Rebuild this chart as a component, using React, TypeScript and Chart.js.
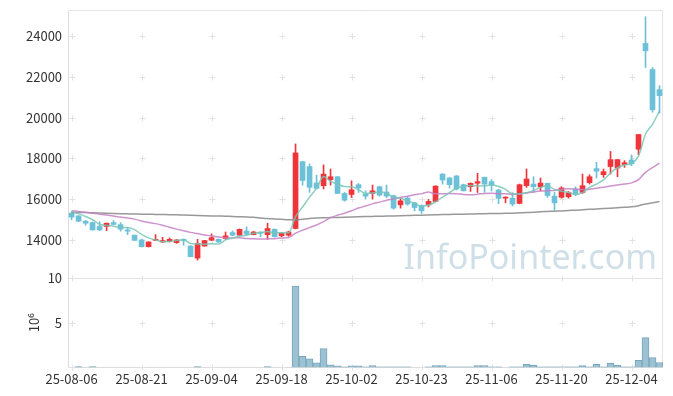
import React, { useEffect, useRef } from 'react';
import { Chart, registerables } from 'chart.js';

Chart.register(...registerables);

const dates = [
  '25-08-06','25-08-07','25-08-08','25-08-11','25-08-12','25-08-13','25-08-14','25-08-18','25-08-19','25-08-20',
  '25-08-21','25-08-22','25-08-25','25-08-26','25-08-27','25-08-28','25-08-29','25-09-01','25-09-02','25-09-03',
  '25-09-04','25-09-05','25-09-08','25-09-09','25-09-10','25-09-11','25-09-12','25-09-15','25-09-16','25-09-17',
  '25-09-18','25-09-19','25-09-22','25-09-23','25-09-24','25-09-25','25-09-26','25-09-29','25-09-30','25-10-01',
  '25-10-02','25-10-10','25-10-13','25-10-14','25-10-15','25-10-16','25-10-17','25-10-20','25-10-21','25-10-22',
  '25-10-23','25-10-24','25-10-27','25-10-28','25-10-29','25-10-30','25-10-31','25-11-03','25-11-04','25-11-05',
  '25-11-06','25-11-07','25-11-10','25-11-11','25-11-12','25-11-13','25-11-14','25-11-17','25-11-18','25-11-19',
  '25-11-20','25-11-21','25-11-24','25-11-25','25-11-26','25-11-27','25-11-28','25-12-01','25-12-02','25-12-03',
  '25-12-04','25-12-05','25-12-08','25-12-09','25-12-10',
];

const opens = [
  15310,15180,14920,14850,14660,14660,14850,14750,14490,14230,
  14000,13670,13980,13900,13930,13870,14030,13700,13110,13700,
  13990,14030,14070,14360,14230,14440,14260,14390,14260,14525,
  14200,14230,14560,17840,17600,16790,16660,16960,17100,16280,
  16230,16710,16250,16280,16610,16350,16170,15720,16050,15820,
  15690,15720,15890,17230,17040,17140,16710,16610,16780,17070,
  16860,16450,16050,16050,15790,16660,16740,16610,16780,16150,
  16090,16120,16500,16330,16810,17500,17200,17600,17530,17700,
  17920,18450,23640,22360,21370,
];

const highs = [
  15380,15200,14950,14880,14890,14830,14950,14850,14590,14250,
  14020,13910,14260,14130,14100,14030,14060,13720,14030,13980,
  14300,14050,14390,14440,14540,14640,14420,14400,14820,14540,
  14360,14430,18710,17860,17730,17180,17680,17480,17110,16330,
  16900,16770,16410,16690,16640,16690,16200,16080,16120,15840,
  15720,15990,16660,17250,17060,17160,16740,16800,17270,17090,
  16960,16480,16120,16320,16740,17480,17100,17040,16790,16330,
  16610,16380,16610,17235,17200,17810,17480,18340,17960,17890,
  18170,19180,24950,22460,21570,
];

const lows = [
  14990,14900,14720,14480,14460,14460,14740,14430,14260,13960,
  13650,13650,13970,13870,13900,13830,13740,13170,13010,13690,
  13960,13880,14030,14200,14200,14230,14250,14160,14030,14140,
  14160,14180,14540,16690,16330,16500,16500,16690,16270,15900,
  16080,16330,16000,16000,16150,16080,15510,15560,15700,15430,
  15300,15620,15870,16740,16545,16450,16400,16380,16330,16330,
  16400,15780,15820,15670,15770,16580,16330,16410,16085,15460,
  16050,16050,16170,16280,16740,17040,17070,17230,17100,17560,
  17640,18180,22460,20270,20220,
];

const closes = [
  15120,14920,14820,14490,14490,14820,14760,14530,14430,13980,
  13670,13900,14030,13970,14030,14000,13970,13180,13830,13970,
  14110,13900,14200,14230,14520,14280,14390,14330,14560,14160,
  14330,14390,18270,16920,16580,16530,17230,17100,16280,15950,
  16460,16550,16150,16410,16200,16150,15560,15920,15760,15590,
  15430,15890,16640,16940,16710,16500,16410,16775,16860,16740,
  16690,16040,16090,15760,16710,16990,16610,16790,16180,15820,
  16550,16320,16250,16660,17100,17370,17350,17940,17940,17790,
  17730,19170,23280,20390,21080,
];

const ma5 = [
  15390,15290,15150,14990,14768,14708,14676,14618,14606,14504,
  14274,14102,14002,13910,13920,13986,14000,13830,13802,13790,
  13812,13798,14002,14082,14192,14226,14324,14350,14416,14344,
  14354,14354,15142,15614,16098,16538,17106,16872,16744,16618,
  16604,16468,16278,16304,16354,16292,16094,16048,15918,15796,
  15652,15718,15862,16098,16322,16536,16640,16667,16651,16657,
  16695,16621,16484,16264,16258,16318,16432,16572,16656,16478,
  16390,16332,16224,16320,16576,16740,16946,17284,17540,17678,
  17750,18114,19182,19672,20330,
];

const ma20 = [
  15430,15400,15360,15310,15265,15220,15170,15120,15080,15020,
  14930,14860,14800,14720,14620,14530,14450,14370,14310,14246,
  14195,14144,14113,14100,14102,14075,14056,14046,14053,14062,
  14095,14119,14331,14479,14606,14733,14896,15092,15214,15313,
  15431,15563,15661,15770,15854,15947,16006,16085,16145,16217,
  16272,16347,16265,16266,16273,16271,16230,16214,16243,16282,
  16294,16268,16265,16233,16258,16300,16353,16396,16417,16429,
  16485,16506,16487,16473,16492,16536,16583,16641,16695,16748,
  16800,16956,17316,17547,17766,
];

const ma60 = [
  15350,15345,15340,15330,15320,15310,15300,15290,15280,15270,
  15265,15260,15250,15245,15240,15230,15220,15210,15200,15190,
  15180,15170,15165,15150,15140,15130,15110,15080,15050,15030,
  15010,14990,14990,15020,15050,15070,15085,15095,15105,15115,
  15125,15135,15145,15155,15165,15170,15180,15190,15200,15210,
  15215,15225,15235,15245,15250,15260,15265,15275,15280,15290,
  15295,15300,15305,15315,15330,15345,15360,15380,15395,15410,
  15425,15445,15460,15480,15500,15520,15540,15560,15580,15600,
  15625,15680,15760,15820,15880,
];

// volume in millions of shares
const volumes = [
  0,0.08,0,0.08,0,0,0,0,0,0,
  0,0,0,0,0,0,0,0,0.08,0,
  0,0,0,0,0,0,0,0,0.08,0,
  0,0,9.1,1.24,0.97,0.52,2.1,0.3,0.17,0.06,
  0.17,0.17,0.06,0.2,0.06,0.06,0.06,0.06,0.06,0,
  0,0.06,0.2,0.2,0.06,0.06,0.06,0.06,0.2,0.2,
  0.06,0.06,0,0.06,0.06,0.34,0.22,0.06,0.06,0.06,
  0.06,0.06,0.06,0.19,0.06,0.34,0.06,0.45,0.22,0.06,
  0.06,0.79,3.33,1.1,0.55,
];

const priceTicks = [14000, 16000, 18000, 20000, 22000, 24000];
const volumeTicks = [5, 10];
const labelEvery = 10;

const FONT = '"Noto Sans CJK KR", "Noto Sans", sans-serif';
const UP = '#ef3539';
const DOWN = '#6cc0d8';

const decor = {
  id: 'decor',
  beforeDatasetsDraw(chart: any) {
    const { ctx, chartArea, scales } = chart;
    const x = scales.x;
    const y = scales.y;
    const yv = scales.yv;
    const L = Math.round(chartArea.left) + 0.5;
    const R = Math.round(chartArea.right) - 0.5;
    ctx.save();
    // watermark
    ctx.font = '34px "Noto Sans", sans-serif';
    ctx.fillStyle = 'rgba(168,196,212,0.55)';
    ctx.textAlign = 'right';
    ctx.textBaseline = 'alphabetic';
    ctx.fillText('InfoPointer.com', chartArea.right - 6, y.bottom - 9);
    // frames
    ctx.lineWidth = 1;
    ctx.strokeStyle = '#e4e4e4';
    const T = Math.round(y.top) + 0.5;
    const M = Math.round(yv.top) + 0.5;
    const B = Math.round(yv.bottom) + 0.5;
    ctx.beginPath();
    ctx.moveTo(L, T); ctx.lineTo(R, T);
    ctx.moveTo(R, T); ctx.lineTo(R, B);
    ctx.moveTo(L, M); ctx.lineTo(R, M);
    ctx.stroke();
    ctx.strokeStyle = '#dcdcdc';
    ctx.beginPath();
    ctx.moveTo(L, T); ctx.lineTo(L, B);
    ctx.moveTo(L, B); ctx.lineTo(R, B);
    ctx.stroke();
    // grid crosses
    ctx.strokeStyle = '#e2e2e2';
    const xs: number[] = [];
    for (let i = 0; i < dates.length; i += labelEvery) xs.push(Math.round(x.getPixelForValue(i)) + 0.5);
    const ys: number[] = [];
    priceTicks.forEach((v) => ys.push(Math.round(y.getPixelForValue(v)) + 0.5));
    volumeTicks.forEach((v) => ys.push(Math.round(yv.getPixelForValue(v)) + 0.5));
    ys.push(B);
    ctx.beginPath();
    xs.forEach((px) => {
      ys.forEach((py) => {
        ctx.moveTo(px - 3, py); ctx.lineTo(px + 3, py);
        ctx.moveTo(px, py - 3); ctx.lineTo(px, py + 3);
      });
    });
    ctx.stroke();
    ctx.restore();
  },
};

const noEdgePadding = (s: any) => {
  s.paddingTop = 0;
  s.paddingBottom = 0;
  s.paddingLeft = 0;
  s.paddingRight = 0;
};

export default function App() {
  const ref = useRef<HTMLCanvasElement>(null);
  useEffect(() => {
    document.body.style.margin = '0';
    const colors = closes.map((c, i) => (c >= opens[i] ? UP : DOWN));
    const chart = new Chart(ref.current as HTMLCanvasElement, {
      type: 'bar',
      data: {
        labels: dates,
        datasets: [
          {
            type: 'line', label: 'MA5', data: ma5, yAxisID: 'y', order: 0,
            borderColor: 'rgba(120,198,182,0.85)', borderWidth: 1.5, pointRadius: 0,
            cubicInterpolationMode: 'monotone',
          } as any,
          {
            type: 'line', label: 'MA20', data: ma20, yAxisID: 'y', order: 0,
            borderColor: 'rgba(196,128,196,0.85)', borderWidth: 1.5, pointRadius: 0,
            cubicInterpolationMode: 'monotone',
          } as any,
          {
            type: 'line', label: 'MA60', data: ma60, yAxisID: 'y', order: 0,
            borderColor: 'rgba(135,135,135,0.85)', borderWidth: 1.5, pointRadius: 0,
            cubicInterpolationMode: 'monotone',
          } as any,
          {
            type: 'bar', label: 'body', data: opens.map((o, i) => [o, closes[i]]), yAxisID: 'y', order: 1,
            backgroundColor: colors, barThickness: 5, grouped: false, minBarLength: 1,
          } as any,
          {
            type: 'bar', label: 'wick', data: lows.map((l, i) => [l, highs[i]]), yAxisID: 'y', order: 2,
            backgroundColor: colors, barThickness: 1, grouped: false,
          } as any,
          {
            type: 'bar', label: 'volume', data: volumes, yAxisID: 'yv', order: 3,
            backgroundColor: '#9cc1d2', borderColor: '#77a6bb', borderWidth: 1,
            barPercentage: 1, categoryPercentage: 1, grouped: false,
          } as any,
        ],
      },
      options: {
        responsive: false,
        maintainAspectRatio: false,
        animation: false,
        layout: { padding: { left: 20, right: 10, top: 10, bottom: 5 } },
        plugins: { legend: { display: false }, tooltip: { enabled: false } },
        scales: {
          x: {
            type: 'category',
            offset: true,
            grid: { display: false, drawTicks: false },
            border: { display: false },
            afterFit: noEdgePadding,
            ticks: {
              autoSkip: false, maxRotation: 0, minRotation: 0, padding: 4,
              color: '#333', font: { family: FONT, size: 13 },
              callback: (v: any, i: number) => (i % labelEvery === 0 ? dates[i] : ''),
            },
          },
          yv: {
            type: 'linear', position: 'left', stack: 'panel', stackWeight: 1,
            min: 0, max: 10,
            grid: { display: false, drawTicks: false },
            border: { display: false },
            afterFit: noEdgePadding,
            afterBuildTicks: (s: any) => { s.ticks = volumeTicks.map((v) => ({ value: v })); },
            ticks: { padding: 6, color: '#333', font: { family: FONT, size: 13 }, callback: (v: any) => String(v) },
            title: {
              display: true, text: '10⁶', color: '#333', font: { family: FONT, size: 13 },
              padding: { top: 6, bottom: 0 },
            },
          },
          y: {
            type: 'linear', position: 'left', stack: 'panel', stackWeight: 3,
            min: 12130, max: 25280,
            grid: { display: false, drawTicks: false },
            border: { display: false },
            afterFit: noEdgePadding,
            afterBuildTicks: (s: any) => { s.ticks = priceTicks.map((v) => ({ value: v })); },
            ticks: { padding: 6, color: '#333', font: { family: FONT, size: 13 }, callback: (v: any) => String(v) },
          },
        } as any,
      },
      plugins: [decor],
    });
    return () => chart.destroy();
  }, []);
  return (
    <div style={{ width: 673, height: 396 }}>
      <canvas ref={ref} width={673} height={396} style={{ display: 'block' }} />
    </div>
  );
}
